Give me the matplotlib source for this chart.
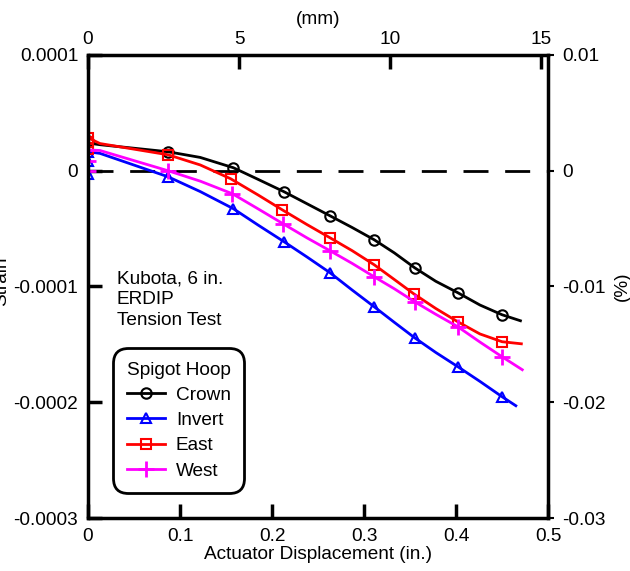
import numpy as np
import matplotlib.pyplot as plt

plt.rcParams['font.family'] = ['Liberation Sans', 'DejaVu Sans']
plt.rcParams['font.size'] = 13.7

# displacement (in.) and strain readings
crown_x = [0, 0, 0.013, 0.087, 0.122, 0.158, 0.185, 0.213, 0.238, 0.263, 0.287, 0.311, 0.333, 0.355, 0.378, 0.402, 0.426, 0.45, 0.47]
crown_y = [0.0000255, 0.000024, 0.0000225, 0.0000164, 0.0000115, 0.0000026, -0.0000075, -0.0000181, -0.0000285, -0.0000389, -0.000049, -0.0000596, -0.000071, -0.0000838, -0.0000955, -0.0001054, -0.000116, -0.0001244, -0.0001296]

invert_x = [0, 0, 0, 0.013, 0.087, 0.122, 0.158, 0.185, 0.213, 0.238, 0.263, 0.287, 0.311, 0.333, 0.355, 0.378, 0.402, 0.426, 0.45, 0.465]
invert_y = [-0.000003, 0.000008, 0.0000164, 0.000015, -0.0000052, -0.000018, -0.0000328, -0.000047, -0.0000613, -0.0000745, -0.0000881, -0.000103, -0.0001175, -0.000131, -0.0001443, -0.000157, -0.0001693, -0.000182, -0.0001952, -0.000203]

east_x = [0, 0, 0, 0.013, 0.087, 0.122, 0.155, 0.185, 0.211, 0.238, 0.263, 0.287, 0.311, 0.333, 0.354, 0.378, 0.402, 0.426, 0.45, 0.471]
east_y = [0.000019, 0.0000245, 0.0000285, 0.0000235, 0.0000138, 0.000005, -0.0000069, -0.000021, -0.0000337, -0.0000465, -0.0000579, -0.000069, -0.0000812, -0.000094, -0.0001063, -0.000119, -0.0001305, -0.000141, -0.0001477, -0.0001495]

west_x = [0, 0, 0, 0.013, 0.087, 0.122, 0.157, 0.185, 0.212, 0.238, 0.263, 0.287, 0.311, 0.333, 0.355, 0.378, 0.402, 0.426, 0.45, 0.472]
west_y = [0.0, 0.000008, 0.000018, 0.0000175, 0.0, -0.000009, -0.0000199, -0.000033, -0.0000458, -0.000058, -0.0000691, -0.00008, -0.0000916, -0.000102, -0.0001132, -0.000124, -0.0001348, -0.000148, -0.0001607, -0.0001719]

crown_marks = [0, 3, 5, 7, 9, 11, 13, 15, 17]
other_marks = [0, 1, 2, 4, 6, 8, 10, 12, 14, 16, 18]

fig = plt.figure(figsize=(6.3, 5.71), dpi=100)
ax = fig.add_axes([0.1397, 0.0928, 0.7302, 0.8109])

ax.axhline(0, color='black', lw=2, dashes=(9, 6), zorder=1)

mk = dict(mfc='none', ms=7.5, mew=1.5, lw=2)
ax.plot(crown_x, crown_y, color='black', marker='o', markevery=crown_marks, label='Crown', **mk)
ax.plot(invert_x, invert_y, color='blue', marker='^', markevery=other_marks, label='Invert', **mk)
ax.plot(east_x, east_y, color='red', marker='s', markevery=other_marks, label='East', **mk)
ax.plot(west_x, west_y, color='magenta', marker='+', markevery=other_marks, label='West',
        ms=11, mew=2, lw=2)

ax.set_xlim(0, 0.5)
ax.set_ylim(-0.0003, 0.0001)
ax.set_xticks([0, 0.1, 0.2, 0.3, 0.4, 0.5])
ax.set_xticklabels(['0', '0.1', '0.2', '0.3', '0.4', '0.5'])
ax.set_yticks([-0.0003, -0.0002, -0.0001, 0, 0.0001])
ax.set_yticklabels(['-0.0003', '-0.0002', '-0.0001', '0', '0.0001'])
ax.tick_params(direction='in', length=10, width=2.5, right=True, top=False, pad=7)
for s in ax.spines.values():
    s.set_linewidth(2.5)
ax.set_xlabel('Actuator Displacement (in.)', labelpad=1)
fig.text(-0.011, 0.508, 'Strain', rotation=90, va='center', ha='left')

# right axis in percent
ax2 = ax.twinx()
ax2.set_ylim(-0.03, 0.01)
ax2.set_yticks([-0.03, -0.02, -0.01, 0, 0.01])
ax2.set_yticklabels(['-0.03', '-0.02', '-0.01', '0', '0.01'])
ax2.tick_params(direction='out', length=4, width=1.5, pad=6)
ax2.set_ylabel('(%)', labelpad=6)
for s in ax2.spines.values():
    s.set_visible(False)

# top axis in mm
ax3 = ax.twiny()
ax3.set_xlim(0, 15.23)
ax3.set_xticks([0, 5, 10, 15])
ax3.tick_params(direction='in', length=10, width=2.5, pad=5)
ax3.set_xlabel('(mm)', labelpad=5)
for s in ax3.spines.values():
    s.set_visible(False)

ax.text(0.063, 0.535, 'Kubota, 6 in.\nERDIP\nTension Test', transform=ax.transAxes,
        va='top', ha='left', linespacing=1.3)

leg = ax.legend(loc='upper left', bbox_to_anchor=(0.063, 0.3585), borderaxespad=0,
                title='Spigot Hoop', title_fontsize=13.7, fontsize=13.7, handlelength=2.0,
                fancybox=True, framealpha=1, edgecolor='black', labelspacing=0.42,
                handletextpad=0.6, borderpad=0.5)
leg.get_frame().set_linewidth(2)
leg.get_frame().set_boxstyle('round', pad=0.2, rounding_size=0.8)

fig.savefig('out.png', dpi=100)
